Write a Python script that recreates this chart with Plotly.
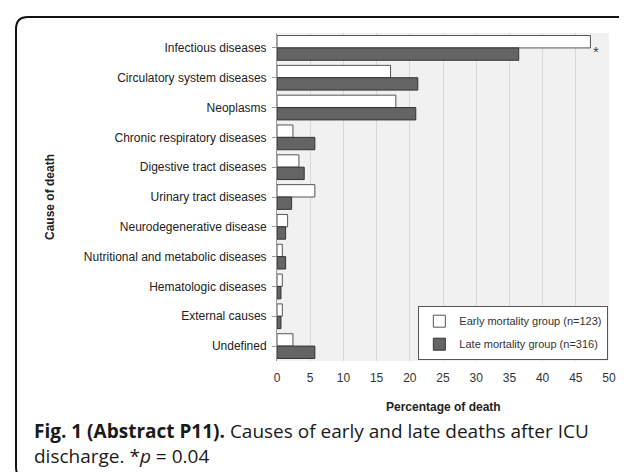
import plotly.graph_objects as go

categories = [
    "Infectious diseases",
    "Circulatory system diseases",
    "Neoplasms",
    "Chronic respiratory diseases",
    "Digestive tract diseases",
    "Urinary tract diseases",
    "Neurodegenerative disease",
    "Nutritional and metabolic diseases",
    "Hematologic diseases",
    "External causes",
    "Undefined",
]
early_pct = [47.2, 17.1, 17.9, 2.4, 3.3, 5.7, 1.6, 0.8, 0.8, 0.8, 2.4]
late_pct = [36.4, 21.2, 20.9, 5.7, 4.1, 2.2, 1.3, 1.3, 0.6, 0.6, 5.7]
early_name = "Early mortality group (n=123)"
late_name = "Late mortality group (n=316)"
x_ticks = [0, 5, 10, 15, 20, 25, 30, 35, 40, 45, 50]

W, H = 627, 472
L, R, T, B = 269, 601, 25, 353


def px(x):
    return (x - L) / (R - L)


def py(y):
    return (B - y) / (B - T)


fig = go.Figure()
fig.add_trace(go.Bar(
    y=categories, x=early_pct, orientation="h", name=early_name,
    marker=dict(color="#ffffff", line=dict(color="#555555", width=1)),
    legendgroup="a",
))
fig.add_trace(go.Bar(
    y=categories, x=late_pct, orientation="h", name=late_name,
    marker=dict(color="#646464", line=dict(color="#333333", width=1)),
    legendgroup="b",
))

# significance marker
fig.add_annotation(x=48.1, y=categories[0], xref="x", yref="y", text="*",
                   showarrow=False, xanchor="center", yanchor="middle",
                   font=dict(size=15, color="#444444", family="Liberation Sans"),
                   yshift=-4)

# axis titles
fig.add_annotation(x=0.5, y=py(399), xref="paper", yref="paper",
                   xanchor="center", yanchor="middle",
                   text="<b>Percentage of death</b>", showarrow=False,
                   font=dict(size=12, color="#222222", family="Liberation Sans"))
fig.add_annotation(x=px(42), y=0.5, xref="paper", yref="paper",
                   xanchor="center", yanchor="middle",
                   text="<b>Cause of death</b>", showarrow=False, textangle=-90,
                   font=dict(size=12, color="#222222", family="Liberation Sans"))

# caption
fig.add_annotation(
    x=px(24), y=py(436), xref="paper", yref="paper", xanchor="left", yanchor="middle",
    align="left", showarrow=False,
    text="<b>Fig. 1 (Abstract P11).</b> Causes of early and late deaths after ICU<br>"
         "discharge. *<i>p</i> = 0.04",
    font=dict(size=19, color="#1a1a1a", family="Open Sans"),
)

# rounded outer frame
x0, y0, x1, y1, r = 8, 9, 630, 471, 12
path = (f"M {px(x0)},{py(y0 + r)} "
        f"L {px(x0)},{py(y1 - r)} Q {px(x0)},{py(y1)} {px(x0 + r)},{py(y1)} "
        f"L {px(x1 - r)},{py(y1)} Q {px(x1)},{py(y1)} {px(x1)},{py(y1 - r)} "
        f"L {px(x1)},{py(y0 + r)} Q {px(x1)},{py(y0)} {px(x1 - r)},{py(y0)} "
        f"L {px(x0 + r)},{py(y0)} Q {px(x0)},{py(y0)} {px(x0)},{py(y0 + r)} Z")
fig.add_shape(type="path", path=path, xref="paper", yref="paper",
              line=dict(color="#111111", width=2), layer="above")

fig.update_layout(
    width=W, height=H,
    margin=dict(l=L, r=W - R, t=T, b=H - B),
    paper_bgcolor="#ffffff",
    plot_bgcolor="#f1f1f1",
    barmode="group",
    bargap=0.17,
    bargroupgap=0.0,
    font=dict(family="Liberation Sans", size=12, color="#333333"),
    showlegend=True,
    legend=dict(
        x=0.998, y=0.004, xanchor="right", yanchor="bottom",
        bgcolor="#ffffff", bordercolor="#555555", borderwidth=1,
        font=dict(size=11, color="#333333", family="Liberation Sans"),
        tracegroupgap=4, itemwidth=30,
    ),
    xaxis=dict(
        range=[0, 50], tickvals=x_ticks, ticktext=[str(v) for v in x_ticks],
        showgrid=True, gridcolor="#d8d8d8", gridwidth=1, zeroline=False,
        ticks="outside", ticklen=6, tickcolor="rgba(0,0,0,0)",
        tickfont=dict(size=12, color="#333333"), fixedrange=True,
    ),
    yaxis=dict(
        autorange="reversed", showline=True, linecolor="#999999", linewidth=1,
        ticks="outside", ticklen=4, tickcolor="#999999",
        tickfont=dict(size=12, color="#222222"), ticklabelstandoff=3,
    ),
)

fig.write_html("out.html")
